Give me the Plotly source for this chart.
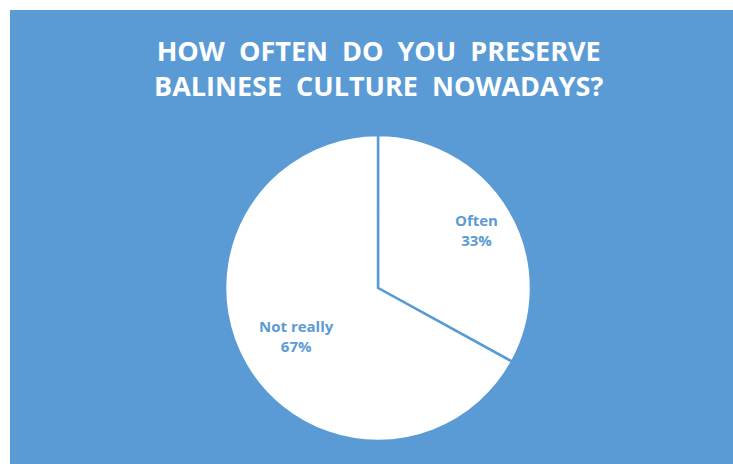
import math
import plotly.graph_objects as go

labels = ["Often", "Not really"]
values = [33, 67]
label_radius = [0.75, 0.62]  # relative distance of each label from the pie centre
title_lines = ["HOW  OFTEN  DO  YOU  PRESERVE", "BALINESE  CULTURE  NOWADAYS?"]

BLUE = "#5B9BD5"
W, H = 733, 464
ML, MT = 10, 10
PW, PH = W - ML, H - MT
dom_x = [0.2974, 0.7206]
dom_y = [0.0507, 0.7247]

fig = go.Figure(go.Pie(
    labels=labels,
    values=values,
    sort=False,
    direction="clockwise",
    rotation=0,
    marker=dict(colors=["white", "white"], line=dict(color=BLUE, width=2.5)),
    textinfo="none",
    hoverinfo="skip",
    showlegend=False,
    domain=dict(x=dom_x, y=dom_y),
))

# label positions derived from the data (mid-angle of each slice)
cx = (dom_x[0] + dom_x[1]) / 2
cy = (dom_y[0] + dom_y[1]) / 2
r_px = min((dom_x[1] - dom_x[0]) * PW, (dom_y[1] - dom_y[0]) * PH) / 2
total = sum(values)
cum = 0
annotations = []
for lab, v, rf in zip(labels, values, label_radius):
    mid = (cum + v / 2) / total * 2 * math.pi
    cum += v
    x = cx + rf * r_px * math.sin(mid) / PW
    y = cy + rf * r_px * math.cos(mid) / PH
    annotations.append(dict(
        text=f"{lab}<br>{round(v / total * 100)}%", xref="paper", yref="paper",
        x=x, y=y, xanchor="center", yanchor="middle", showarrow=False,
        font=dict(family="Open Sans", size=15, color=BLUE, weight="bold"), align="center"))

annotations.append(dict(
    text="<br>".join(title_lines), xref="paper", yref="paper",
    x=(378 - ML) / PW, y=0.955, xanchor="center", yanchor="top", showarrow=False,
    font=dict(family="Open Sans", size=27, color="white", weight="bold"), align="center"))

fig.update_layout(
    width=W, height=H,
    margin=dict(l=ML, t=MT, r=0, b=0),
    paper_bgcolor="white",
    shapes=[dict(type="rect", xref="paper", yref="paper", x0=0, x1=1, y0=0, y1=1,
                 fillcolor=BLUE, line=dict(width=0), layer="below")],
    annotations=annotations,
)

fig.write_html("out.html")
